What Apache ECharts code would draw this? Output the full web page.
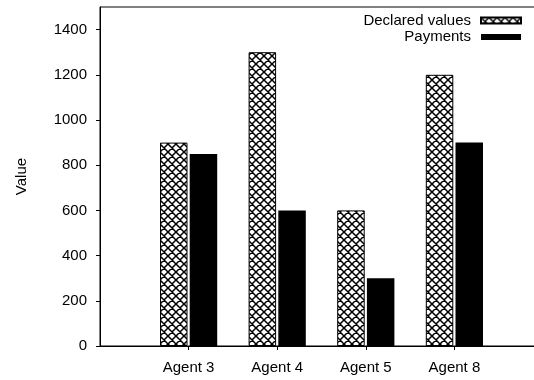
<!DOCTYPE html>
<html>
<head>
<meta charset="utf-8">
<script src="https://cdn.jsdelivr.net/npm/echarts@6/dist/echarts.min.js"></script>
<style>
  html, body { margin: 0; padding: 0; background: #fff; }
  #chart { width: 534px; height: 380px; }
</style>
</head>
<body>
<div id="chart"></div>
<script>
// Categories (blank slots pad the axis at both ends)
const categories = ['', 'Agent 3', 'Agent 4', 'Agent 5', 'Agent 8', ''];
const declaredValues = [null, 900, 1300, 600, 1200, null];
const payments = [null, 850, 600, 300, 900, null];
const yTickValues = [0, 200, 400, 600, 800, 1000, 1200, 1400];

const FONT = '"Liberation Sans", Arial, Helvetica, sans-serif';

// Cross-hatch fill for the declared-value bars
function makeHatch() {
  const c = document.createElement('canvas');
  c.width = 8; c.height = 8;
  const g = c.getContext('2d');
  g.fillStyle = '#fff';
  g.fillRect(0, 0, 8, 8);
  g.strokeStyle = '#000';
  g.lineWidth = 1.5;
  g.beginPath();
  g.moveTo(0, 0); g.lineTo(8, 8);
  g.moveTo(8, 0); g.lineTo(0, 8);
  g.moveTo(-1, 7); g.lineTo(1, 9);
  g.moveTo(7, -1); g.lineTo(9, 1);
  g.moveTo(-1, 1); g.lineTo(1, -1);
  g.moveTo(7, 9); g.lineTo(9, 7);
  g.stroke();
  return c;
}
const hatch = { image: makeHatch(), repeat: 'repeat' };

const chart = echarts.init(document.getElementById('chart'), null, { renderer: 'canvas' });

chart.setOption({
  animation: false,
  backgroundColor: '#fff',
  textStyle: { fontFamily: FONT, color: '#000' },
  grid: {
    left: 100, top: 7, bottom: 34, right: -9,
    outerBoundsMode: 'none',
    containLabel: false,
    show: true, borderColor: '#000', borderWidth: 1, backgroundColor: 'transparent'
  },
  legend: {
    orient: 'vertical',
    right: 12,
    top: 13,
    padding: 0,
    align: 'right',
    itemWidth: 40,
    itemHeight: 6,
    itemGap: 1.5,
    icon: 'rect',
    textStyle: { fontFamily: FONT, fontSize: 15, color: '#000', padding: [0, 5, 0, 0] },
    data: ['Declared values', 'Payments']
  },
  xAxis: {
    type: 'category',
    data: categories,
    boundaryGap: false,
    axisLine: { lineStyle: { color: '#000', width: 1 } },
    axisTick: {
      length: 4,
      inside: false,
      interval: function (idx, val) { return val !== ''; },
      lineStyle: { color: '#000' }
    },
    axisLabel: { interval: 0, fontFamily: FONT, fontSize: 15, color: '#000', margin: 14 },
    splitLine: { show: false }
  },
  yAxis: {
    type: 'value',
    min: 0,
    max: 1500,
    interval: 100,
    name: 'Value',
    nameLocation: 'middle',
    nameRotate: 90,
    nameGap: 71,
    nameTextStyle: { fontFamily: FONT, fontSize: 15, color: '#000' },
    axisLine: { show: true, lineStyle: { color: '#000', width: 1 } },
    axisTick: { show: true, length: 4, customValues: yTickValues, lineStyle: { color: '#000' } },
    axisLabel: {
      customValues: yTickValues,
      formatter: function (v) { return String(v); },
      fontFamily: FONT, fontSize: 15, color: '#000', margin: 13
    },
    splitLine: { show: false }
  },
  series: [
    {
      name: 'Declared values',
      type: 'bar',
      data: declaredValues,
      barWidth: 27.5,
      barGap: '8%',
      itemStyle: { color: hatch, borderColor: '#000', borderWidth: 1 }
    },
    {
      name: 'Payments',
      type: 'bar',
      data: payments,
      barWidth: 27.5,
      barGap: '8%',
      itemStyle: { color: '#000' }
    }
  ]
});
</script>
</body>
</html>
